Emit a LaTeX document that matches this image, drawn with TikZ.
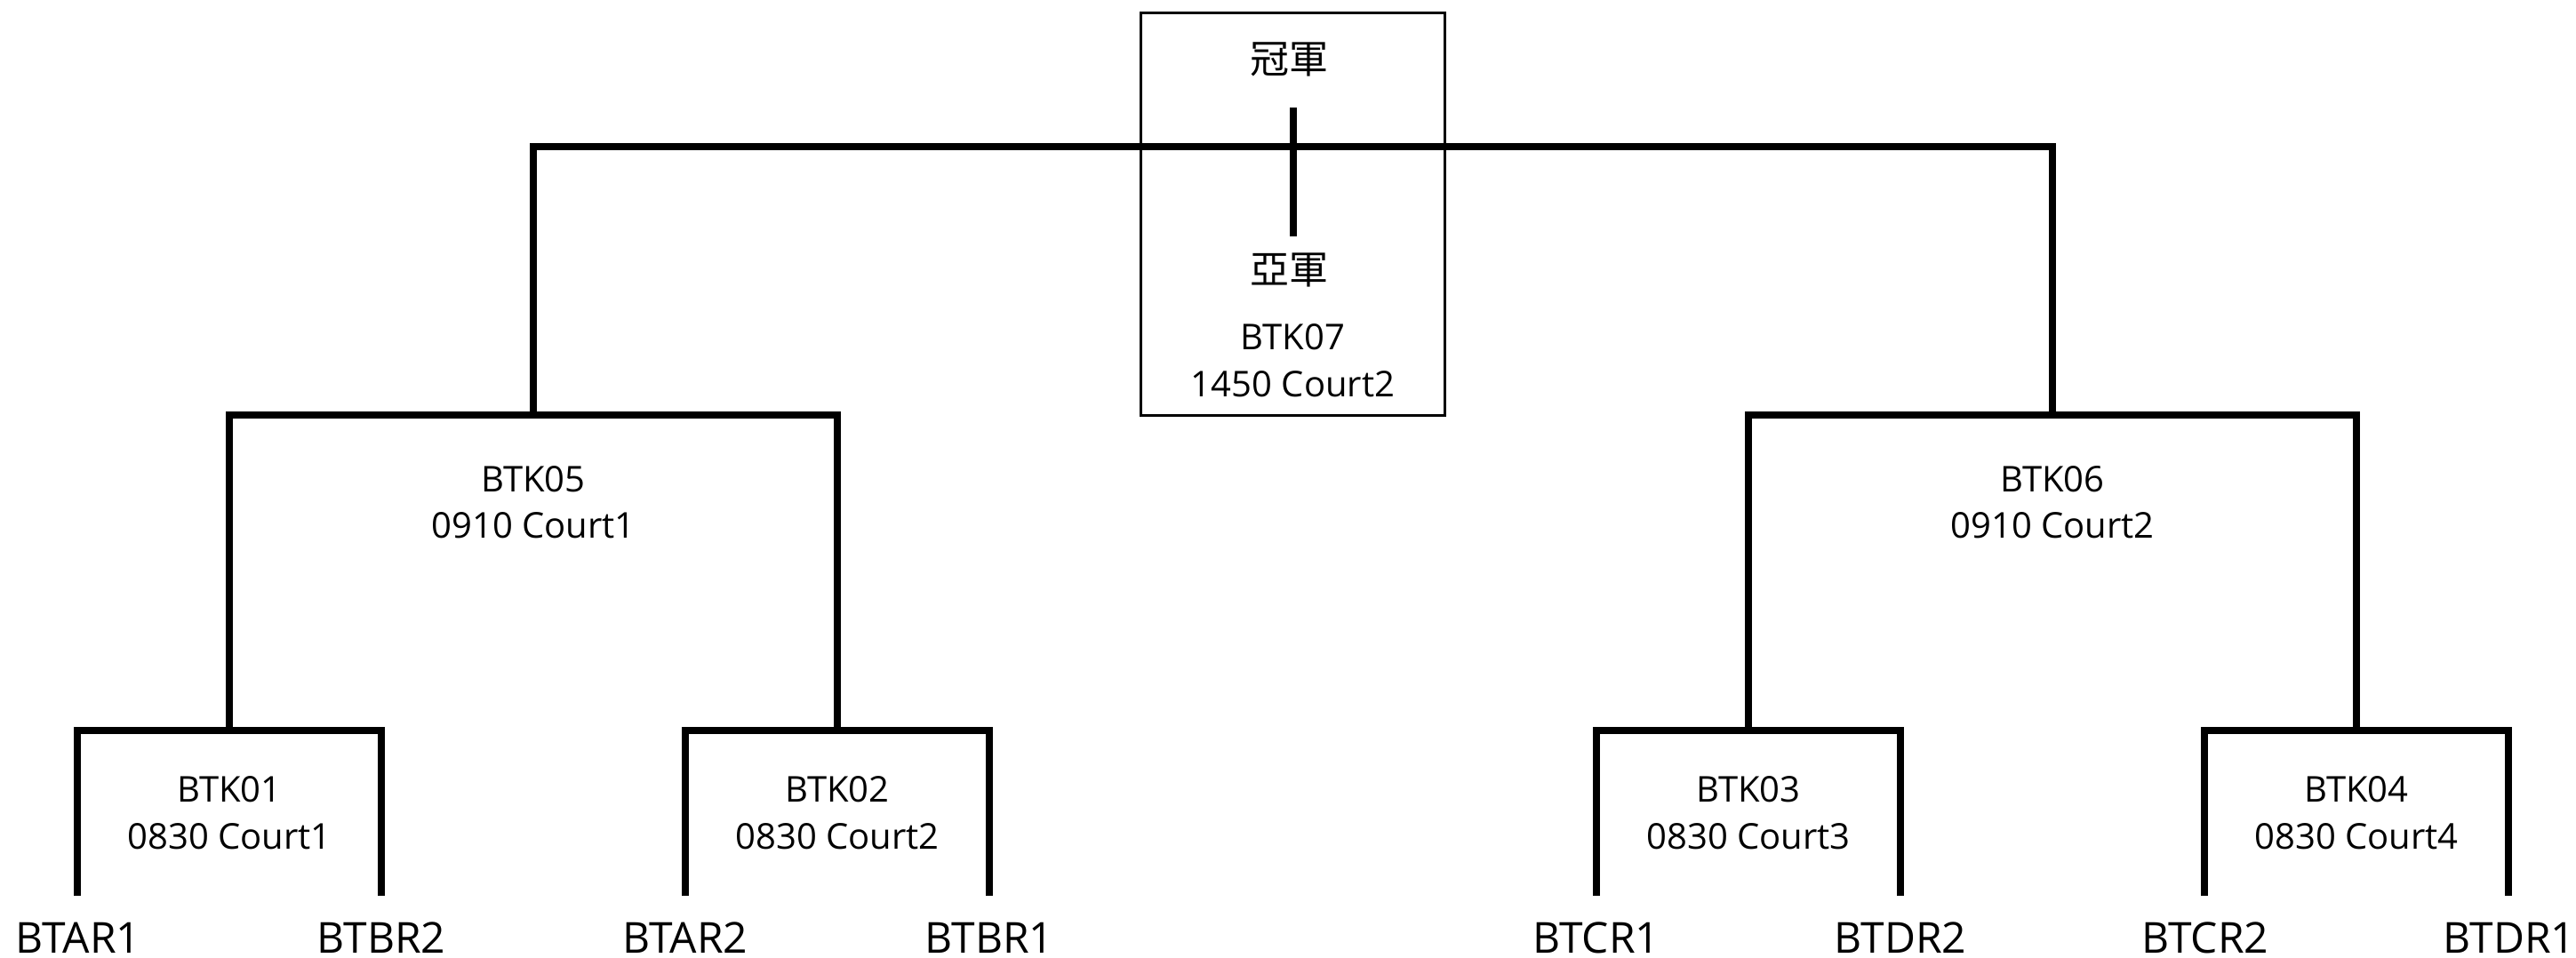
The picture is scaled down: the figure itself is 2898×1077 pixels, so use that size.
\documentclass[tikz,border=0pt]{standalone}
\usepackage{fontspec}
\setmainfont{Open Sans}
\newfontfamily\cjk{Noto Sans CJK TC}
\begin{document}
\begin{tikzpicture}[x=1pt,y=-1pt,
  bracket/.style={line width=8pt,line join=miter,line cap=butt},
  lbl/.style={inner sep=0pt,anchor=base,font=\fontsize{40}{52}\selectfont},
  leaf/.style={inner sep=0pt,anchor=base,font=\fontsize{48}{56}\selectfont},
  cjklbl/.style={inner sep=0pt,anchor=base,font=\cjk\fontsize{44}{52}\selectfont},
  finalbox/.style={draw,line width=3pt,inner sep=0pt,minimum width=342pt,minimum height=453pt}]
\useasboundingbox (0,0) rectangle (2898,1077);
% final box
\node[finalbox] (box) at (1454.5,240.5) {};
% leaf ends
\foreach \n/\x in {l1/87,l2/429,l3/771,l4/1113,l5/1796,l6/2138,l7/2480,l8/2822}
  \coordinate (\n) at (\x,1008);
% junctions
\coordinate (j1) at (258,822);
\coordinate (j2) at (942,822);
\coordinate (j3) at (1967,822);
\coordinate (j4) at (2651,822);
\coordinate (j5) at (600,467);
\coordinate (j6) at (2309,467);
\coordinate (j7) at (1454.5,165);
\coordinate (c1) at (1454.5,121);
\coordinate (c2) at (1454.5,266);
% brackets
\draw[bracket] (l1) |- (j1) -| (l2);
\draw[bracket] (l3) |- (j2) -| (l4);
\draw[bracket] (l5) |- (j3) -| (l6);
\draw[bracket] (l7) |- (j4) -| (l8);
\draw[bracket] (j1) |- (j5) -| (j2);
\draw[bracket] (j3) |- (j6) -| (j4);
\draw[bracket] (j5) |- (j7) -| (j6);
\draw[bracket] (c1) -- (c2);
% texts
\node[cjklbl] (champ) at (1450,82) {冠軍};
\node[cjklbl] (runner) at (1450,319) {亞軍};
\node[lbl] (m7a) at (1454.5,393) {BTK07};
\node[lbl] (m7b) at (1454.5,446) {1450 Court2};
\node[lbl] (m5a) at (600,553) {BTK05};
\node[lbl] (m5b) at (600,605) {0910 Court1};
\node[lbl] (m6a) at (2309,553) {BTK06};
\node[lbl] (m6b) at (2309,605) {0910 Court2};
\node[lbl] (m1a) at (258,902) {BTK01};
\node[lbl] (m1b) at (258,955) {0830 Court1};
\node[lbl] (m2a) at (942,902) {BTK02};
\node[lbl] (m2b) at (942,955) {0830 Court2};
\node[lbl] (m3a) at (1967,902) {BTK03};
\node[lbl] (m3b) at (1967,955) {0830 Court3};
\node[lbl] (m4a) at (2651,902) {BTK04};
\node[lbl] (m4b) at (2651,955) {0830 Court4};
\node[leaf] (t1) at (88,1072) {BTAR1};
\node[leaf] (t2) at (429,1072) {BTBR2};
\node[leaf] (t3) at (771,1072) {BTAR2};
\node[leaf] (t4) at (1113,1072) {BTBR1};
\node[leaf] (t5) at (1796,1072) {BTCR1};
\node[leaf] (t6) at (2138,1072) {BTDR2};
\node[leaf] (t7) at (2481,1072) {BTCR2};
\node[leaf] (t8) at (2823,1072) {BTDR1};
\end{tikzpicture}
\end{document}
